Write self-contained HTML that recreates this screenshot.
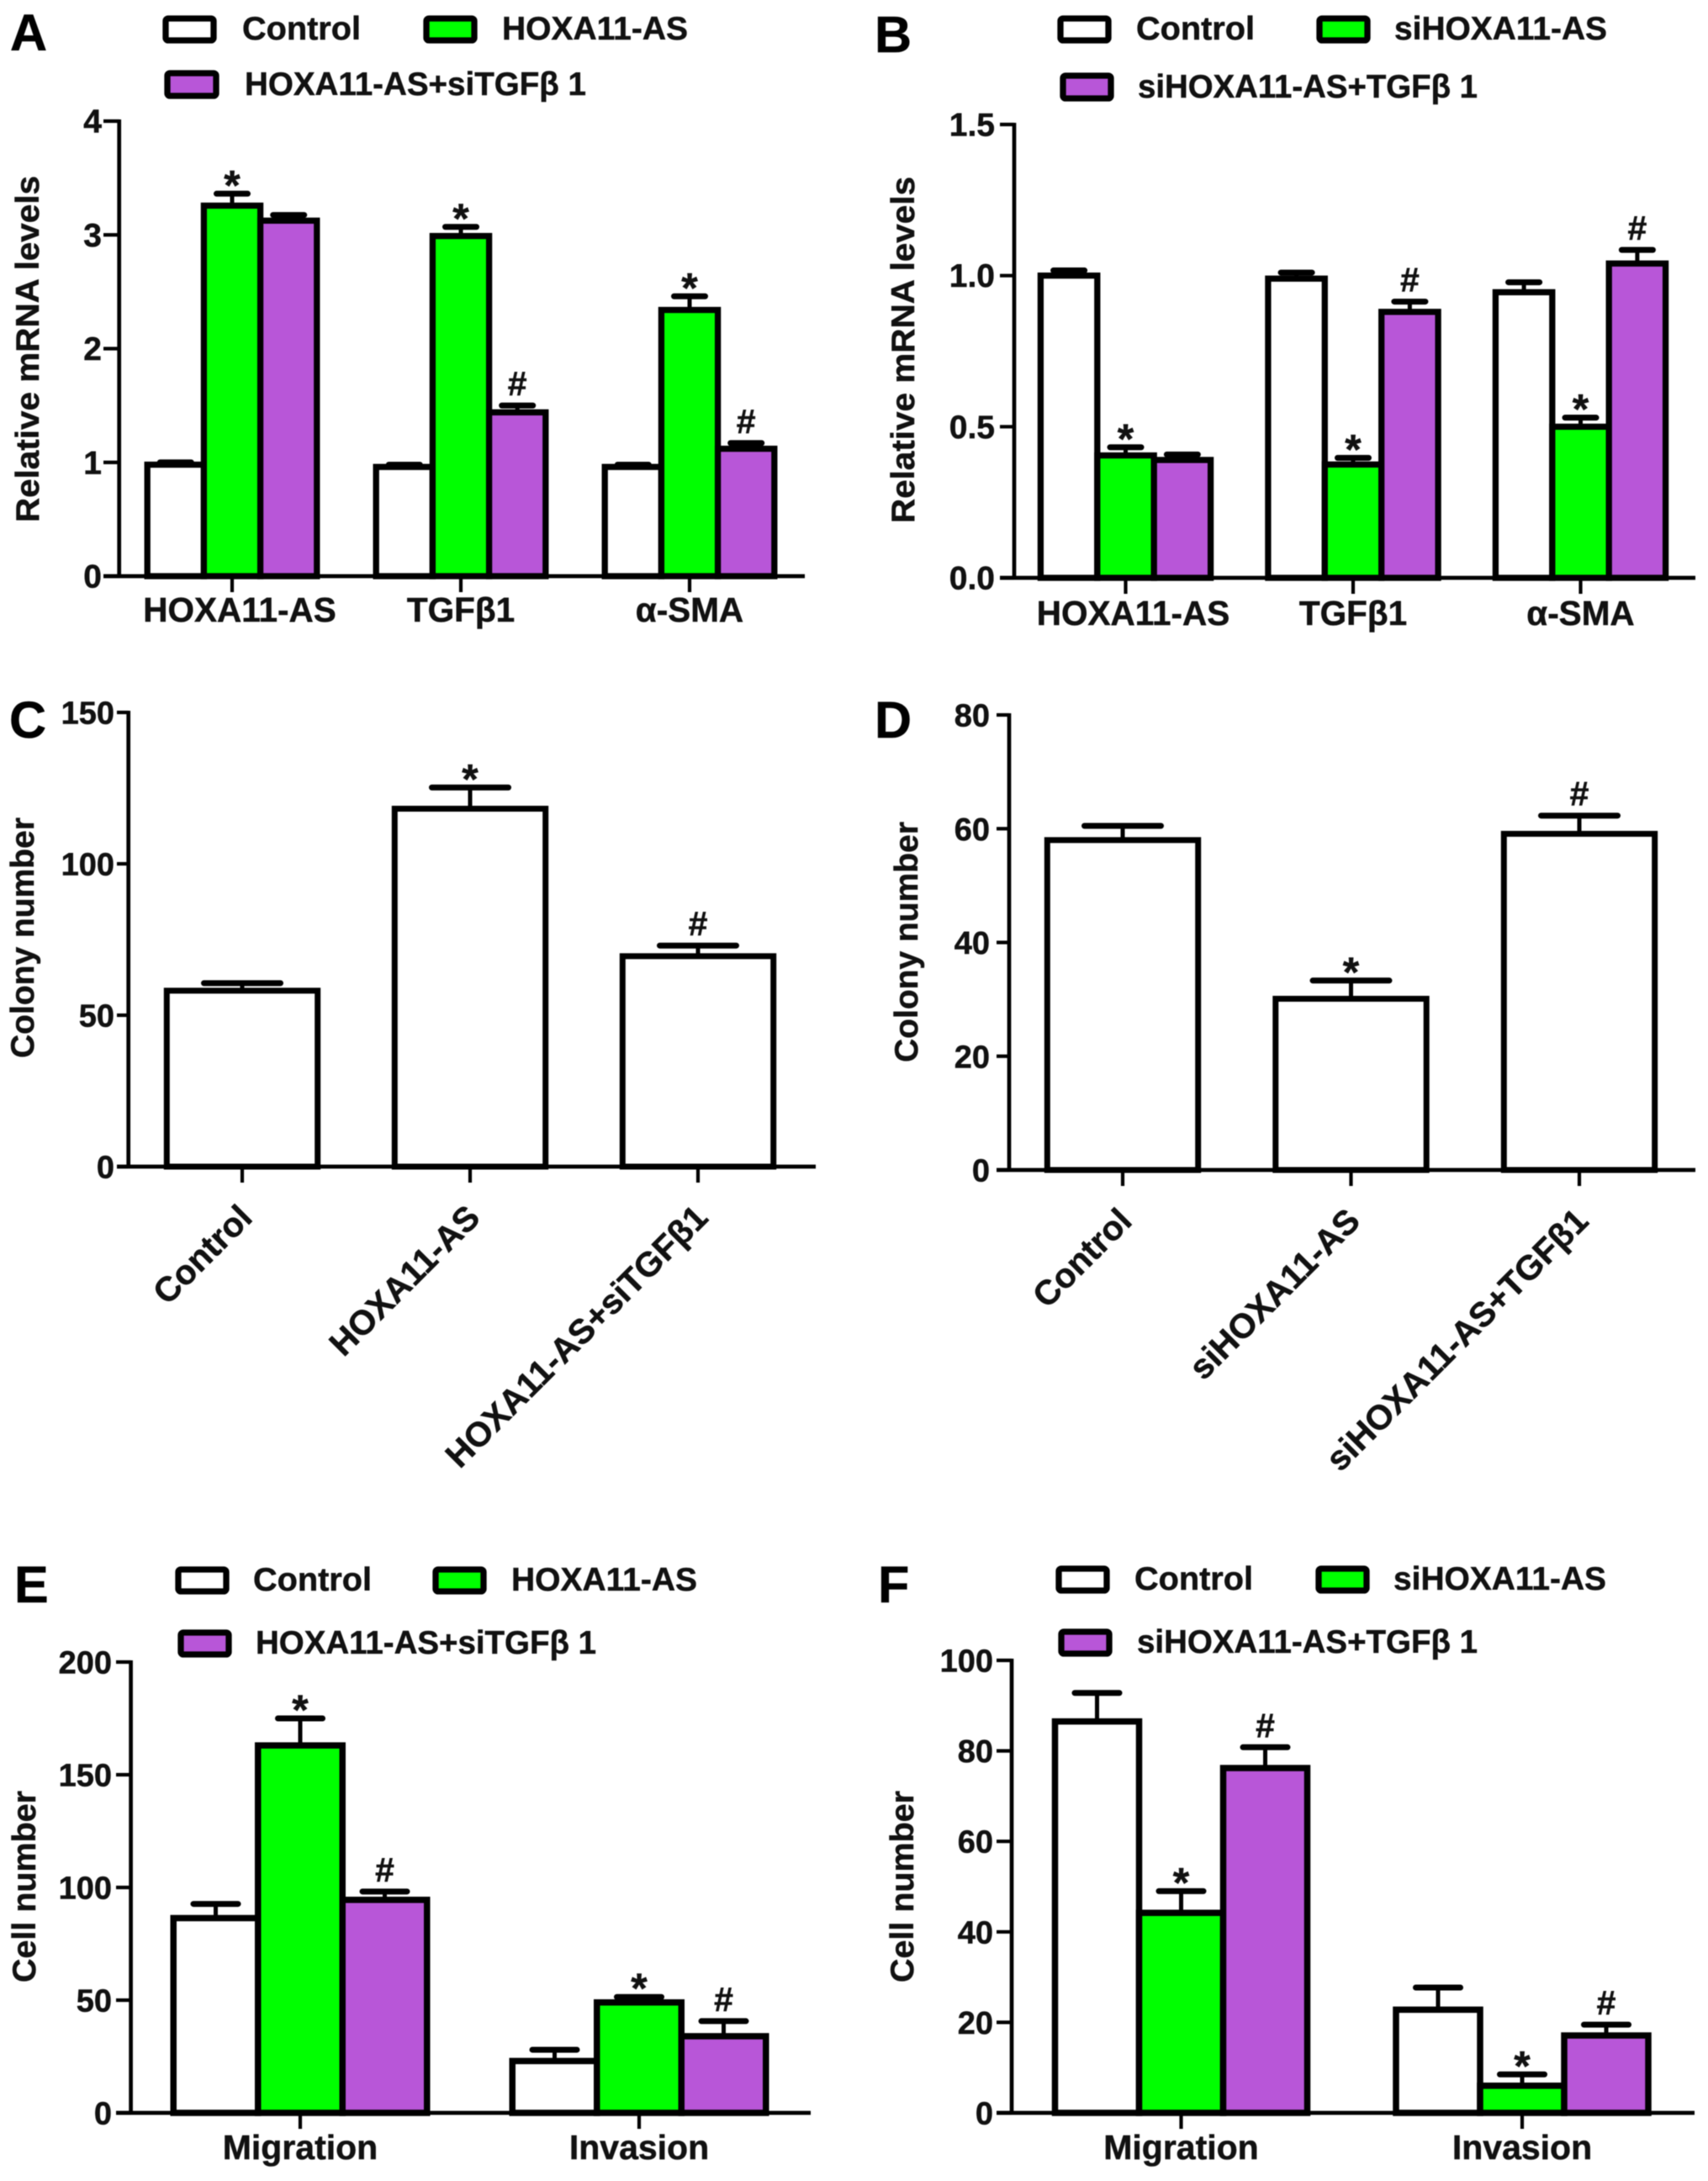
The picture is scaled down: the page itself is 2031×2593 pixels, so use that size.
<!DOCTYPE html>
<html lang="en">
<head>
<meta charset="utf-8">
<title>HOXA11-AS and TGFβ1 bar charts</title>
<style>
html,body{margin:0;padding:0;background:#fff;}
svg{display:block;filter:blur(0.5px);}
text{font-family:"Liberation Sans",Arial,sans-serif;font-weight:bold;fill:#111;stroke:#111;stroke-width:0.5px;}
.lg{font-size:39px;}
.letter{font-size:61px;fill:#000;stroke:#000;}
.title{font-size:39px;}
</style>
</head>
<body>
<svg id="figure" xmlns="http://www.w3.org/2000/svg" width="2031" height="2593" viewBox="0 0 2031 2593">
<rect x="0" y="0" width="2031" height="2593" fill="#fff"/>

<g>
<text class="letter" x="12" y="60">A</text>
<rect x="197" y="22" width="57" height="26" rx="3" fill="#fff" stroke="#000" stroke-width="7.3"/>
<text class="lg" x="288" y="47" textLength="141" lengthAdjust="spacingAndGlyphs">Control</text>
<rect x="507" y="22" width="57" height="26" rx="3" fill="#00ff00" stroke="#000" stroke-width="7.3"/>
<text class="lg" x="597" y="47" textLength="221" lengthAdjust="spacingAndGlyphs">HOXA11-AS</text>
<rect x="199" y="87" width="58" height="27" rx="3" fill="#b856d8" stroke="#000" stroke-width="7.3"/>
<text class="lg" x="291" y="113" textLength="406" lengthAdjust="spacingAndGlyphs">HOXA11-AS+siTGFβ 1</text>
<text class="title" transform="translate(46,415) rotate(-90)" text-anchor="middle" textLength="412" lengthAdjust="spacingAndGlyphs">Relative mRNA levels</text>
</g>

<g>
<text class="letter" x="1040" y="62">B</text>
<rect x="1261" y="22" width="57" height="26" rx="3" fill="#fff" stroke="#000" stroke-width="7.3"/>
<text class="lg" x="1351" y="47" textLength="141" lengthAdjust="spacingAndGlyphs">Control</text>
<rect x="1569" y="22" width="57" height="26" rx="3" fill="#00ff00" stroke="#000" stroke-width="7.3"/>
<text class="lg" x="1658" y="47" textLength="253" lengthAdjust="spacingAndGlyphs">siHOXA11-AS</text>
<rect x="1264" y="90" width="57" height="27" rx="3" fill="#b856d8" stroke="#000" stroke-width="7.3"/>
<text class="lg" x="1353" y="116" textLength="404" lengthAdjust="spacingAndGlyphs">siHOXA11-AS+TGFβ 1</text>
<text class="title" transform="translate(1087,416) rotate(-90)" text-anchor="middle" textLength="412" lengthAdjust="spacingAndGlyphs">Relative mRNA levels</text>
</g>

<g>
<text class="letter" x="11" y="877">C</text>
<text class="title" transform="translate(40,1115) rotate(-90)" text-anchor="middle" textLength="286" lengthAdjust="spacingAndGlyphs">Colony number</text>
</g>

<g>
<text class="letter" x="1040" y="877">D</text>
<text class="title" transform="translate(1091,1120) rotate(-90)" text-anchor="middle" textLength="286" lengthAdjust="spacingAndGlyphs">Colony number</text>
</g>

<g>
<text class="letter" x="17" y="1905">E</text>
<rect x="212" y="1866" width="57" height="26" rx="3" fill="#fff" stroke="#000" stroke-width="7.3"/>
<text class="lg" x="301" y="1891" textLength="141" lengthAdjust="spacingAndGlyphs">Control</text>
<rect x="518" y="1866" width="57" height="26" rx="3" fill="#00ff00" stroke="#000" stroke-width="7.3"/>
<text class="lg" x="608" y="1891" textLength="221" lengthAdjust="spacingAndGlyphs">HOXA11-AS</text>
<rect x="215" y="1941" width="57" height="26" rx="3" fill="#b856d8" stroke="#000" stroke-width="7.3"/>
<text class="lg" x="304" y="1966" textLength="405" lengthAdjust="spacingAndGlyphs">HOXA11-AS+siTGFβ 1</text>
<text class="title" transform="translate(42,2243) rotate(-90)" text-anchor="middle" textLength="228" lengthAdjust="spacingAndGlyphs">Cell number</text>
</g>

<g>
<text class="letter" x="1044" y="1905">F</text>
<rect x="1259" y="1865" width="57" height="26" rx="3" fill="#fff" stroke="#000" stroke-width="7.3"/>
<text class="lg" x="1349" y="1890" textLength="141" lengthAdjust="spacingAndGlyphs">Control</text>
<rect x="1568" y="1865" width="57" height="26" rx="3" fill="#00ff00" stroke="#000" stroke-width="7.3"/>
<text class="lg" x="1657" y="1890" textLength="253" lengthAdjust="spacingAndGlyphs">siHOXA11-AS</text>
<rect x="1262" y="1940" width="57" height="26" rx="3" fill="#b856d8" stroke="#000" stroke-width="7.3"/>
<text class="lg" x="1352" y="1965" textLength="405" lengthAdjust="spacingAndGlyphs">siHOXA11-AS+TGFβ 1</text>
<text class="title" transform="translate(1086,2243) rotate(-90)" text-anchor="middle" textLength="228" lengthAdjust="spacingAndGlyphs">Cell number</text>
</g>
</svg>

<script>
// Panel A data
const aCategories = ["HOXA11-AS", "TGFβ1", "α-SMA"];
const aTicks = ["0", "1", "2", "3", "4"];
const aControl = [0.98, 0.96, 0.96];
const aControlErr = [0.02, 0.02, 0.02];
const aTreated = [3.257, 2.99, 2.34];
const aTreatedErr = [0.105, 0.08, 0.12];
const aCombo = [3.125, 1.44, 1.12];
const aComboErr = [0.05, 0.06, 0.05];
const aTreatedMarks = ["*", "*", "*"];
const aComboMarks = ["", "#", "#"];

// Panel B data
const bCategories = ["HOXA11-AS", "TGFβ1", "α-SMA"];
const bTicks = ["0.0", "0.5", "1.0", "1.5"];
const bControl = [1.0, 0.99, 0.945];
const bControlErr = [0.017, 0.02, 0.033];
const bTreated = [0.405, 0.375, 0.5];
const bTreatedErr = [0.027, 0.022, 0.03];
const bCombo = [0.39, 0.88, 1.04];
const bComboErr = [0.018, 0.034, 0.045];
const bTreatedMarks = ["*", "*", "*"];
const bComboMarks = ["", "#", "#"];

// Panel C data
const cCategories = ["Control", "HOXA11-AS", "HOXA11-AS+siTGFβ1"];
const cTicks = ["0", "50", "100", "150"];
const cValues = [58.1, 118.2, 69.5];
const cErrors = [2.5, 7, 3.5];
const cMarks = ["", "*", "#"];

// Panel D data
const dCategories = ["Control", "siHOXA11-AS", "siHOXA11-AS+TGFβ1"];
const dTicks = ["0", "20", "40", "60", "80"];
const dValues = [58, 30.1, 59.1];
const dErrors = [2.5, 3.2, 3.2];
const dMarks = ["", "*", "#"];

// Panel E data
const eCategories = ["Migration", "Invasion"];
const eTicks = ["0", "50", "100", "150", "200"];
const eControl = [86.4, 23];
const eControlErr = [6.3, 5];
const eTreated = [163, 49];
const eTreatedErr = [12, 2.4];
const eCombo = [94.5, 34];
const eComboErr = [3.7, 6.7];
const eTreatedMarks = ["*", "*"];
const eComboMarks = ["#", "#"];

// Panel F data
const fCategories = ["Migration", "Invasion"];
const fTicks = ["0", "20", "40", "60", "80", "100"];
const fControl = [86.5, 22.8];
const fControlErr = [6.3, 4.9];
const fTreated = [44.2, 6];
const fTreatedErr = [4.8, 2.5];
const fCombo = [76.2, 17.1];
const fComboErr = [4.6, 2.4];
const fTreatedMarks = ["*", "*"];
const fComboMarks = ["#", "#"];

const WHITE = "#ffffff";
const GREEN = "#00ff00";
const PURPLE = "#b856d8";
const NS = "http://www.w3.org/2000/svg";
const svg = document.getElementById("figure");

function make(tag, attrs, parent, txt) {
  const n = document.createElementNS(NS, tag);
  for (const k in attrs) n.setAttribute(k, attrs[k]);
  if (txt !== undefined) n.textContent = txt;
  parent.appendChild(n);
  return n;
}

function drawPanel(id, L, categories, ticks, series) {
  const root = make("g", {}, svg);
  
  
  const maxV = parseFloat(ticks[ticks.length - 1]);
  const yScale = v => L.y0 - (v / maxV) * (L.y0 - L.yTop);
  const xScale = i => L.cat0 + i * L.step;
  const nSeries = series.length;

  series.forEach((s, j) => {
    categories.forEach((cat, i) => {
      const offset = nSeries > 1 ? (j - (nSeries - 1) / 2) * L.barW : 0;
      const cx = xScale(i) + offset;
      const top = yScale(s.values[i]);
      const capY = yScale(s.values[i] + s.errors[i]);

      const whisker = make("line", {x1: cx, x2: cx, y1: top, y2: capY, stroke: "#000", "stroke-width": 5}, root);
      
      

      const cap = make("line", {x1: cx - L.capW / 2, x2: cx + L.capW / 2, y1: capY, y2: capY, stroke: "#000", "stroke-width": L.capStroke, "stroke-linecap": "round"}, root);
      
      

      const bar = make("rect", {x: cx - L.barW / 2, y: top, width: L.barW, height: L.y0 - top, fill: s.color, stroke: "#000", "stroke-width": L.barStroke}, root);
      
      

      const mark = s.marks ? s.marks[i] : "";
      if (mark) {
        const my = mark === "*" ? capY + 7 : capY - 12;
        const m = make("text", {x: cx, y: my, "text-anchor": "middle", "font-size": mark === "*" ? 50 : 41}, root, mark);
        
        
      }
    });
  });

  const yAxis = make("line", {x1: L.axisX, x2: L.axisX, y1: L.yTop - 2, y2: L.y0 + 2, stroke: "#000", "stroke-width": 4.7}, root);
  
  

  const xAxis = make("line", {x1: L.xStart, x2: L.xEnd, y1: L.y0, y2: L.y0, stroke: "#000", "stroke-width": 4.7}, root);
  
  

  ticks.forEach(t => {
    const y = yScale(parseFloat(t));
    const mark = make("line", {x1: L.xStart, x2: L.axisX, y1: y, y2: y, stroke: "#000", "stroke-width": 4.2}, root);
    
    
    const lab = make("text", {x: L.tickLabelX, y: y + 13.5, "text-anchor": "end", "font-size": L.tickFont}, root, t);
    
    
  });

  categories.forEach((cat, i) => {
    const x = xScale(i);
    const mark = make("line", {x1: x, x2: x, y1: L.y0, y2: L.y0 + 19, stroke: "#000", "stroke-width": 4.2}, root);
    
    
    let lab;
    if (L.rotated) {
      const lx = x + L.rotDx;
      const ly = L.y0 + L.rotDy;
      lab = make("text", {x: lx, y: ly, "text-anchor": "end", "font-size": 41, transform: "rotate(-45 " + lx + " " + ly + ")"}, root, cat);
    } else {
      const dx = i === 0 ? L.firstDx : 0;
      lab = make("text", {x: x + dx, y: L.catBase, "text-anchor": "middle", "font-size": L.catFont}, root, cat);
    }
    
    
  });
}

drawPanel("a",
  {y0: 685, yTop: 144, axisX: 141.7, xStart: 123, xEnd: 957, cat0: 276, step: 272, barW: 67.2, barStroke: 7.3, capW: 37, capStroke: 7, tickLabelX: 121, tickFont: 39, catBase: 739, catFont: 40.5, firstDx: 9},
  aCategories, aTicks,
  [{key: "control", color: WHITE, values: aControl, errors: aControlErr},
   {key: "treated", color: GREEN, values: aTreated, errors: aTreatedErr, marks: aTreatedMarks},
   {key: "combo", color: PURPLE, values: aCombo, errors: aComboErr, marks: aComboMarks}]);

drawPanel("b",
  {y0: 687, yTop: 148, axisX: 1206, xStart: 1189, xEnd: 2016, cat0: 1338.5, step: 270.5, barW: 67.4, barStroke: 7.3, capW: 37, capStroke: 7, tickLabelX: 1183, tickFont: 39, catBase: 743, catFont: 40.5, firstDx: 9},
  bCategories, bTicks,
  [{key: "control", color: WHITE, values: bControl, errors: bControlErr},
   {key: "treated", color: GREEN, values: bTreated, errors: bTreatedErr, marks: bTreatedMarks},
   {key: "combo", color: PURPLE, values: bCombo, errors: bComboErr, marks: bComboMarks}]);

drawPanel("c",
  {y0: 1387, yTop: 847, axisX: 152.7, xStart: 139, xEnd: 970, cat0: 288, step: 271, barW: 179.4, barStroke: 7, capW: 91, capStroke: 7, tickLabelX: 136, tickFont: 38, rotated: true, rotDx: 14, rotDy: 63},
  cCategories, cTicks,
  [{key: "bar", color: WHITE, values: cValues, errors: cErrors, marks: cMarks}]);

drawPanel("d",
  {y0: 1391, yTop: 850, axisX: 1200, xStart: 1185, xEnd: 2016, cat0: 1335, step: 271.5, barW: 179.4, barStroke: 7, capW: 91, capStroke: 7, tickLabelX: 1177, tickFont: 38, rotated: true, rotDx: 13, rotDy: 63},
  dCategories, dTicks,
  [{key: "bar", color: WHITE, values: dValues, errors: dErrors, marks: dMarks}]);

drawPanel("e",
  {y0: 2512, yTop: 1976, axisX: 155.6, xStart: 138, xEnd: 964, cat0: 357, step: 403, barW: 100.5, barStroke: 7.5, capW: 53, capStroke: 7, tickLabelX: 133, tickFont: 38, catBase: 2567, catFont: 41, firstDx: 0},
  eCategories, eTicks,
  [{key: "control", color: WHITE, values: eControl, errors: eControlErr},
   {key: "treated", color: GREEN, values: eTreated, errors: eTreatedErr, marks: eTreatedMarks},
   {key: "combo", color: PURPLE, values: eCombo, errors: eComboErr, marks: eComboMarks}]);

drawPanel("f",
  {y0: 2512, yTop: 1974, axisX: 1203, xStart: 1185, xEnd: 2015, cat0: 1404.5, step: 405.5, barW: 100, barStroke: 7.5, capW: 53, capStroke: 7, tickLabelX: 1181, tickFont: 38, catBase: 2567, catFont: 41, firstDx: 0},
  fCategories, fTicks,
  [{key: "control", color: WHITE, values: fControl, errors: fControlErr},
   {key: "treated", color: GREEN, values: fTreated, errors: fTreatedErr, marks: fTreatedMarks},
   {key: "combo", color: PURPLE, values: fCombo, errors: fComboErr, marks: fComboMarks}]);
</script>
</body>
</html>
